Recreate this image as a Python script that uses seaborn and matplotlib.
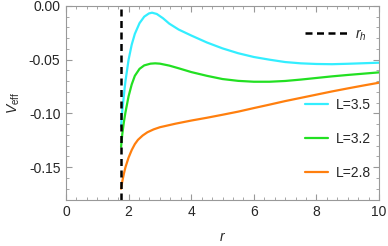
import numpy as np
import pandas as pd
import matplotlib
matplotlib.use("Agg")
import matplotlib.pyplot as plt
import seaborn as sns
from matplotlib.ticker import MultipleLocator, AutoMinorLocator
from matplotlib.lines import Line2D

sns.set_style("ticks")
plt.rcParams['font.family'] = ['Liberation Sans', 'DejaVu Sans']
plt.rcParams['mathtext.fontset'] = 'custom'
plt.rcParams['mathtext.rm'] = 'Liberation Sans'
plt.rcParams['mathtext.it'] = 'Liberation Sans:italic'
plt.rcParams['axes.unicode_minus'] = True

# horizon
r_h = 1.76

# values
r_35 = [1.76, 1.80, 1.85, 1.90, 2.00, 2.10, 2.20, 2.35, 2.50, 2.65, 2.75, 2.90, 3.10, 3.30, 3.60,
        4.00, 4.50, 5.00, 5.50, 6.00, 6.50, 7.00, 7.50, 8.00, 8.50, 9.00, 9.50, 10.0]
V_35 = [-0.112, -0.097, -0.083, -0.070, -0.050, -0.036, -0.026, -0.016, -0.0100, -0.0070, -0.0063,
        -0.0075, -0.0115, -0.0165, -0.0220, -0.0275, -0.034, -0.0395, -0.044, -0.0475, -0.050,
        -0.0522, -0.0534, -0.054, -0.0542, -0.0538, -0.0533, -0.0528]

r_32 = [1.76, 1.80, 1.85, 1.90, 2.00, 2.10, 2.20, 2.35, 2.50, 2.70, 2.85, 3.00, 3.30, 3.60,
        4.00, 4.50, 5.00, 5.50, 6.00, 6.50, 7.00, 7.50, 8.00, 8.50, 9.00, 9.50, 10.0]
V_32 = [-0.131, -0.119, -0.108, -0.099, -0.084, -0.073, -0.065, -0.0585, -0.0553, -0.0537, -0.0534,
        -0.0537, -0.0555, -0.058, -0.0615, -0.065, -0.068, -0.0697, -0.0705, -0.0705, -0.0698,
        -0.0685, -0.0670, -0.0655, -0.0642, -0.063, -0.0618]

r_28 = [1.76, 1.80, 1.85, 1.90, 2.00, 2.10, 2.20, 2.30, 2.45, 2.60, 2.80, 3.00, 3.50, 4.00, 4.50,
        5.00, 5.50, 6.00, 6.50, 7.00, 7.50, 8.00, 8.50, 9.00, 9.50, 10.0]
V_28 = [-0.170, -0.163, -0.156, -0.150, -0.141, -0.134, -0.1285, -0.1245, -0.1205, -0.1175, -0.1148,
        -0.1128, -0.1095, -0.1066, -0.104, -0.1012, -0.0983, -0.095, -0.0918, -0.0885, -0.0855,
        -0.0825, -0.0795, -0.0767, -0.074, -0.0714]

labels = ["L=3.5", "L=3.2", "L=2.8"]
colors = ["#33eeff", "#22e022", "#ff7f0e"]

df = pd.concat([
    pd.DataFrame({"r": r_35, "V": V_35, "L": labels[0]}),
    pd.DataFrame({"r": r_32, "V": V_32, "L": labels[1]}),
    pd.DataFrame({"r": r_28, "V": V_28, "L": labels[2]}),
])

fig = plt.figure(figsize=(3.88, 2.46), dpi=100)
ax = fig.add_axes([0.170, 0.189, 0.807, 0.787])

sns.lineplot(data=df, x="r", y="V", hue="L", palette=dict(zip(labels, colors)),
             lw=1.6, ax=ax, legend=False, sort=False)
dash = (0, (2.8, 1.8))
ax.axvline(r_h, color="k", lw=1.8, ls=dash)

ax.set_xlim(0, 10)
ax.set_ylim(-0.18, 0.0)
ax.xaxis.set_major_locator(MultipleLocator(2))
ax.xaxis.set_minor_locator(AutoMinorLocator(6))
ax.yaxis.set_major_locator(MultipleLocator(0.05))
ax.yaxis.set_minor_locator(AutoMinorLocator(5))
ax.yaxis.set_major_formatter(matplotlib.ticker.FormatStrFormatter('%.2f'))
ax.tick_params(which="both", direction="in", top=True, right=True, color="#999999",
               labelsize=10, pad=4)
ax.tick_params(which="major", length=4, width=0.8)
ax.tick_params(which="minor", length=2, width=0.6)
for s in ax.spines.values():
    s.set_color("#999999")
    s.set_linewidth(0.8)

ax.set_xlabel(r"$r$", fontsize=10, labelpad=8)
ax.set_ylabel(r"$V_{\rm eff}$", fontsize=10, labelpad=5)

h1 = [Line2D([], [], color="k", lw=1.8, ls=dash)]
leg1 = ax.legend(h1, [r"$r_h$"], loc="upper left", bbox_to_anchor=(0.764, 0.89),
                 frameon=False, borderpad=0, borderaxespad=0, handlelength=3.1,
                 handletextpad=0.5, fontsize=10)
ax.add_artist(leg1)
h2 = [Line2D([], [], color=c, lw=1.6) for c in colors]
ax.legend(h2, labels, loc="upper left", bbox_to_anchor=(0.764, 0.525),
          frameon=False, borderpad=0, borderaxespad=0, handlelength=1.65,
          handletextpad=0.55, labelspacing=1.45, fontsize=10)

fig.savefig("out.png", dpi=100)
